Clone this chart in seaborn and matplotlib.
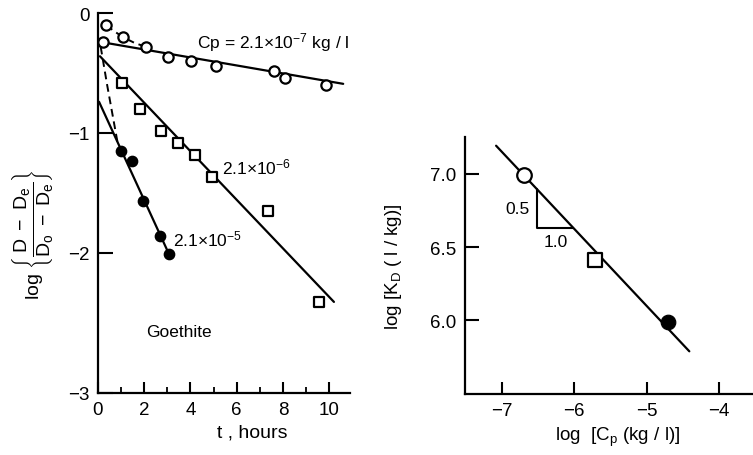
import numpy as np
import pandas as pd
import matplotlib
matplotlib.use("Agg")
import matplotlib.pyplot as plt
import seaborn as sns

# Datos (Goethite)
t_open = [0.22, 0.35, 1.08, 2.06, 3.04, 4.03, 5.09, 7.62, 8.10, 9.86]
y_open = [-0.24, -0.10, -0.20, -0.28, -0.37, -0.40, -0.44, -0.48, -0.54, -0.60]

t_square = [1.03, 1.81, 2.72, 3.45, 4.20, 4.95, 7.37, 9.57]
y_square = [-0.58, -0.80, -0.98, -1.08, -1.18, -1.37, -1.65, -2.41]

t_filled = [1.00, 1.47, 1.95, 2.68, 3.07]
y_filled = [-1.15, -1.23, -1.57, -1.86, -2.01]

# rectas ajustadas (extremos)
t_fit_open = [0.10, 10.6]
y_fit_open = [-0.24, -0.59]
t_fit_square = [0.09, 10.2]
y_fit_square = [-0.36, -2.41]
t_fit_filled = [0.05, 3.07]
y_fit_filled = [-0.74, -2.01]

# curvas a trazos al inicio
t_dash_open = [0.35, 0.70, 1.08, 1.60, 2.06]
y_dash_open = [-0.10, -0.15, -0.20, -0.25, -0.28]
t_dash_fast = [0.12, 0.40, 0.85]
y_dash_fast = [-0.28, -0.60, -1.08]

# panel derecho: log KD vs log Cp
log_cp = [-6.70, -5.71, -4.70]
log_kd = [6.99, 6.41, 5.99]
kd_line_x = [-7.08, -4.41]
kd_line_y = [7.19, 5.79]

sns.set_style("ticks", {"axes.edgecolor": "black", "text.color": "black",
                        "axes.labelcolor": "black", "xtick.color": "black",
                        "ytick.color": "black"})
plt.rcParams["font.family"] = ["Liberation Sans", "DejaVu Sans"]
plt.rcParams["mathtext.fontset"] = "custom"
plt.rcParams["mathtext.rm"] = "Liberation Sans"
plt.rcParams["mathtext.it"] = "Liberation Sans"

fig = plt.figure(figsize=(7.53, 4.56), dpi=100)
ax1 = fig.add_axes([0.130, 0.136, 0.335, 0.833])
ax2 = fig.add_axes([0.6175, 0.134, 0.3825, 0.5636])

lw = 1.6
k = "black"

# ---- panel izquierdo ----
for tx, ty in [(t_fit_open, y_fit_open), (t_fit_square, y_fit_square),
               (t_fit_filled, y_fit_filled)]:
    sns.lineplot(x=tx, y=ty, ax=ax1, color=k, lw=lw, sort=False, estimator=None)
for tx, ty in [(t_dash_open, y_dash_open), (t_dash_fast, y_dash_fast)]:
    sns.lineplot(x=tx, y=ty, ax=ax1, color=k, lw=1.4, sort=False,
                 estimator=None, linestyle=(0, (4, 2.5)))

sns.scatterplot(x=t_open, y=y_open, ax=ax1, marker="o", s=55,
                facecolor="white", edgecolor=k, linewidth=1.6, zorder=5)
sns.scatterplot(x=t_square, y=y_square, ax=ax1, marker="s", s=42,
                facecolor="white", edgecolor=k, linewidth=1.6, zorder=5)
sns.scatterplot(x=t_filled, y=y_filled, ax=ax1, marker="o", s=55,
                color=k, edgecolor=k, linewidth=1.0, zorder=5)

ax1.text(4.3, -0.24, r"Cp = 2.1$\times$10$^{-7}$ kg / l", fontsize=12.5,
         va="center", ha="left")
ax1.text(5.35, -1.28, r"2.1$\times$10$^{-6}$", fontsize=12.5, va="center", ha="left")
ax1.text(3.25, -1.88, r"2.1$\times$10$^{-5}$", fontsize=12.5, va="center", ha="left")
ax1.text(2.1, -2.66, "Goethite", fontsize=12.5, va="center", ha="left")

ax1.set_xlim(0, 10.9)
ax1.set_ylim(-3.17, 0)
ax1.set_xticks([0, 2, 4, 6, 8, 10])
ax1.set_xticks([1, 3, 5, 7, 9], minor=True)
ax1.set_yticks([0, -1, -2, -3.17])
ax1.set_yticklabels(["0", "\u22121", "\u22122", "\u22123"])
ax1.tick_params(axis="both", direction="in", width=1.5, labelsize=13.5)
ax1.tick_params(axis="x", length=8, pad=6)
ax1.tick_params(axis="x", which="minor", direction="in", length=4, width=1.3)
ax1.tick_params(axis="y", length=11, pad=6)
ax1.set_xlabel("t , hours", fontsize=14)
ax1.xaxis.set_label_coords(0.61, -0.08)
ax1.set_ylabel(r"$\mathrm{log}\ \left\{\dfrac{D\ -\ D_e}{D_o\ -\ D_e}\right\}$",
               fontsize=14)
ax1.yaxis.set_label_coords(-0.17, 0.42)

# ---- panel derecho ----
sns.lineplot(x=kd_line_x, y=kd_line_y, ax=ax2, color=k, lw=lw, sort=False,
             estimator=None)
slope = (kd_line_y[1] - kd_line_y[0]) / (kd_line_x[1] - kd_line_x[0])
tri_x0, tri_y0 = -6.52, 6.63
tri_top = kd_line_y[0] + slope * (tri_x0 - kd_line_x[0])
tri_x1 = kd_line_x[0] + (tri_y0 - kd_line_y[0]) / slope
ax2.plot([tri_x0, tri_x0, tri_x1], [tri_top, tri_y0, tri_y0], color=k, lw=1.5)
ax2.text(-6.62, 6.76, "0.5", fontsize=12.5, ha="right", va="center")
ax2.text(-6.25, 6.54, "1.0", fontsize=12.5, ha="center", va="center")

df_kd = pd.DataFrame({"log_cp": log_cp, "log_kd": log_kd,
                      "grupo": ["open", "square", "filled"]})
sns.scatterplot(data=df_kd.iloc[[0]], x="log_cp", y="log_kd", ax=ax2, marker="o",
                s=110, facecolor="white", edgecolor=k, linewidth=1.6, zorder=5)
sns.scatterplot(data=df_kd.iloc[[1]], x="log_cp", y="log_kd", ax=ax2, marker="s",
                s=90, facecolor="white", edgecolor=k, linewidth=1.6, zorder=5)
sns.scatterplot(data=df_kd.iloc[[2]], x="log_cp", y="log_kd", ax=ax2, marker="o",
                s=110, color=k, edgecolor=k, zorder=5)

ax2.set_xlim(-7.51, -3.53)
ax2.set_ylim(5.50, 7.25)
ax2.set_xticks([-7, -6, -5, -4])
ax2.set_xticklabels(["\u22127", "\u22126", "\u22125", "\u22124"])
ax2.set_yticks([6.0, 6.5, 7.0])
ax2.set_yticklabels(["6.0", "6.5", "7.0"])
ax2.tick_params(axis="both", direction="in", width=1.5, labelsize=13.5)
ax2.tick_params(axis="x", length=9, pad=6)
ax2.tick_params(axis="y", length=10, pad=6)
ax2.set_xlabel(r"log  [C$_\mathrm{p}$ (kg / l)]", fontsize=13.5)
ax2.xaxis.set_label_coords(0.53, -0.12)
ax2.set_ylabel(r"log [K$_\mathrm{D}$ ( l / kg)]", fontsize=13.5)
ax2.yaxis.set_label_coords(-0.21, 0.5)

for ax in (ax1, ax2):
    sns.despine(ax=ax)
    ax.spines["left"].set_linewidth(1.6)
    ax.spines["bottom"].set_linewidth(1.6)
    ax.grid(False)
    if ax.get_legend():
        ax.get_legend().remove()

fig.savefig("out.png", dpi=100)
